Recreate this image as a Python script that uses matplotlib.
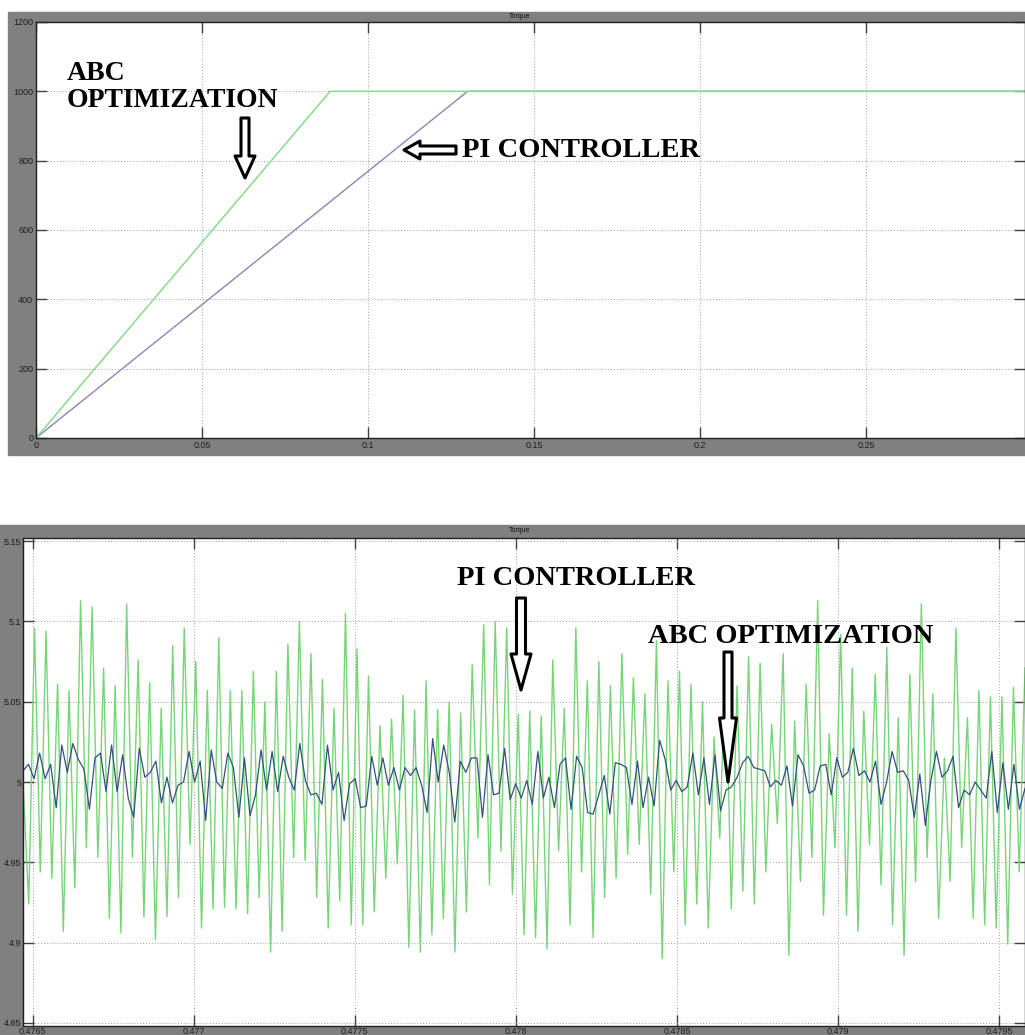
import numpy as np
import matplotlib
matplotlib.use("Agg")
import matplotlib.pyplot as plt
from matplotlib.patches import Rectangle, FancyArrowPatch

# ---- top panel: torque start-up (0 .. 0.3 s)
top_ticks_x = [0, 0.05, 0.1, 0.15, 0.2, 0.25]
top_tick_labels_x = ["0", "0.05", "0.1", "0.15", "0.2", "0.25"]
top_ticks_y = [0, 200, 400, 600, 800, 1000, 1200]
abc_start_t = [0.0, 0.0886, 0.3]
abc_start_v = [0, 1000, 1000]
pi_start_t = [0.0, 0.130, 0.3]
pi_start_v = [0, 1000, 1000]

# ---- bottom panel: steady-state ripple (0.4765 .. 0.4795 s)
bot_ticks_x = [0.4765, 0.477, 0.4775, 0.478, 0.4785, 0.479, 0.4795]
bot_tick_labels_x = ["0.4765", "0.477", "0.4775", "0.478", "0.4785", "0.479", "0.4795"]
bot_ticks_y = [4.85, 4.9, 4.95, 5.0, 5.05, 5.1, 5.15]
bot_tick_labels_y = ["4.85", "4.9", "4.95", "5", "5.05", "5.1", "5.15"]

pi_peaks = [5.096, 5.094, 5.061, 5.057, 5.113, 5.109, 5.071, 5.060, 5.111, 5.076,
            5.062, 5.046, 5.085, 5.096, 5.075, 5.057, 5.090, 5.057, 5.057, 5.069,
            5.050, 5.069, 5.086, 5.100, 5.080, 5.064, 5.046, 5.105, 5.083, 5.066,
            5.035, 5.039, 5.054, 5.045, 5.063, 5.045, 5.050, 5.043, 5.073, 5.098,
            5.100, 5.096, 5.042, 5.044, 5.041, 5.076, 5.046, 5.096, 5.063, 5.075,
            5.060, 5.080, 5.065, 5.055, 5.088, 5.063, 5.069, 5.061, 5.050, 5.028,
            5.078, 5.060, 5.078, 5.074, 5.036, 5.080, 5.038, 5.061, 5.113, 5.030,
            5.092, 5.071, 5.044, 5.067, 5.084, 5.040, 5.067, 5.111, 5.055, 5.015,
            5.096, 5.040, 5.057, 5.053, 5.053, 5.059, 5.071]
pi_troughs = [4.924, 4.944, 4.940, 4.907, 4.934, 4.959, 4.953, 4.915, 4.906, 4.953,
              4.916, 4.902, 4.916, 4.928, 4.961, 4.909, 4.921, 4.922, 4.921, 4.918,
              4.928, 4.894, 4.907, 4.953, 4.951, 4.928, 4.909, 4.926, 4.911, 4.911,
              4.919, 4.940, 4.949, 4.897, 4.894, 4.905, 4.915, 4.894, 4.919, 4.965,
              4.936, 4.957, 4.930, 4.905, 4.903, 4.896, 4.957, 4.911, 4.944, 4.903,
              4.928, 4.940, 4.955, 4.961, 4.930, 4.890, 4.944, 4.911, 4.924, 4.909,
              4.965, 4.921, 4.932, 4.924, 4.944, 4.974, 4.892, 4.938, 4.953, 4.917,
              4.959, 4.917, 4.907, 4.961, 4.936, 4.911, 4.892, 4.938, 4.953, 4.915,
              4.938, 4.959, 4.915, 4.911, 4.909, 4.899, 4.944]

abc_ripple = [5.007, 5.011, 5.002, 5.018, 5.002, 5.011, 4.984, 5.023, 5.006, 5.024,
              5.014, 5.008, 4.983, 5.015, 5.018, 4.994, 5.023, 4.994, 5.017, 4.990,
              4.978, 5.021, 5.003, 5.006, 5.013, 4.987, 5.003, 4.987, 4.998, 5.000,
              5.019, 5.000, 5.013, 4.976, 5.020, 5.000, 4.996, 5.018, 5.009, 4.978,
              5.015, 4.979, 4.992, 5.020, 4.995,
              5.019, 4.994, 5.016, 5.003, 4.995, 5.024, 5.001, 4.992, 4.993, 4.986,
              5.023, 4.995, 5.006, 4.976, 4.999, 5.002, 4.984, 4.985, 5.016, 4.998,
              5.015, 4.998, 5.009, 4.995, 5.009, 5.004, 5.009, 4.998, 4.981, 5.027,
              5.000, 5.023, 5.006, 4.975, 5.013, 5.006, 5.015, 5.015, 4.978, 5.017,
              4.992, 4.993, 5.021, 4.989, 4.999,
              4.990, 5.001, 4.986, 5.019, 4.990, 5.003, 4.984, 5.011, 5.015, 4.983,
              5.016, 5.009, 4.981, 4.980, 4.992, 5.004, 4.980, 5.012, 5.011, 5.009,
              4.986, 5.013, 4.984, 5.003, 4.985, 5.026, 5.014, 4.995, 5.001, 4.994,
              4.997, 5.018, 4.992, 5.015, 4.986, 5.017, 4.982, 4.995, 4.997, 5.003,
              5.012, 5.016, 5.009,
              5.008, 5.007, 4.997, 5.001, 4.998, 5.010, 4.985, 5.017, 5.010, 4.993,
              4.995, 5.010, 5.011, 4.992, 5.015, 5.003, 5.006, 5.021, 5.004, 5.007,
              5.000, 5.013, 4.986, 5.000, 5.019, 5.006, 5.007, 5.001, 4.978, 5.005,
              4.973, 5.001, 5.019, 5.003, 5.007, 5.016, 4.984, 4.995, 4.992, 5.000,
              4.995, 4.990, 5.019, 4.981, 5.012, 4.983, 5.011, 4.983, 4.996]

W, H = 1025, 1035
GRAY = "#808080"
TICK_COLOR = "#1e1e1e"


def fx(px):
    return px / W


def fy(py):
    return 1 - py / H


def style_axes(ax):
    ax.set_facecolor("white")
    ax.grid(True, linestyle=(0, (1, 2)), color="#a0a0a0", linewidth=0.7)
    ax.tick_params(direction="in", length=8, width=1.0, color="#404040",
                   labelsize=6.5, labelcolor=TICK_COLOR, pad=2,
                   top=True, right=True)
    for s in ax.spines.values():
        s.set_color("#202020")
        s.set_linewidth(1.0)
    for lab in ax.get_xticklabels() + ax.get_yticklabels():
        lab.set_family("Liberation Sans")


def hollow_arrow(fig, x0, y0, x1, y1, tail_w, head_w, head_l):
    # sizes given in pixels, style wants points
    k = 0.72
    style = f"simple,head_length={head_l * k},head_width={head_w * k},tail_width={tail_w * k}"
    arr = FancyArrowPatch((fx(x0), fy(y0)), (fx(x1), fy(y1)), transform=fig.transFigure,
                          arrowstyle=style, mutation_scale=1, shrinkA=0, shrinkB=0,
                          facecolor="white", edgecolor="black", linewidth=2.2, zorder=10)
    fig.add_artist(arr)


fig = plt.figure(figsize=(W / 100, H / 100), dpi=100)
fig.patch.set_facecolor("white")

# grey scope frames, kept behind the axes
fig.add_artist(Rectangle((fx(8), fy(455)), fx(W - 8), (455 - 12) / H,
                         transform=fig.transFigure, color=GRAY, zorder=-5))
fig.add_artist(Rectangle((fx(0), fy(1035)), 1.0, (1035 - 525) / H,
                         transform=fig.transFigure, color=GRAY, zorder=-5))

# ---- top axes
ax1 = fig.add_axes([fx(36), fy(438), fx(W - 36), (438 - 22) / H])
ax1.plot(pi_start_t, pi_start_v, color="#8a84b8", linewidth=1.0)
ax1.plot(abc_start_t, abc_start_v, color="#8cd88c", linewidth=1.1)
ax1.set_xlim(0, 0.2979)
ax1.set_ylim(0, 1200)
ax1.set_xticks(top_ticks_x)
ax1.set_xticklabels(top_tick_labels_x)
ax1.set_yticks(top_ticks_y)
ax1.set_yticklabels([str(v) for v in top_ticks_y])
style_axes(ax1)
fig.text(fx(520), fy(16), "Torque", fontsize=5, color="#101010",
         ha="center", va="center", family="Liberation Sans")

# ---- bottom axes
ax2 = fig.add_axes([fx(23), fy(1026), fx(W - 23), (1026 - 538) / H])
t_pi = np.linspace(0.47647, 0.47958, 2 * len(pi_peaks) + 1)
v_pi = [5.0]
for tr, pk in zip(pi_troughs, pi_peaks):
    v_pi += [tr, pk]
t_abc = np.linspace(0.47647, 0.47958, len(abc_ripple))
ax2.plot(t_pi, v_pi, color="#78d478", linewidth=1.0)
ax2.plot(t_abc, abc_ripple, color="#34507e", linewidth=0.9)
ax2.set_xlim(0.47647, 0.47958)
ax2.set_ylim(4.848, 5.152)
ax2.set_xticks(bot_ticks_x)
ax2.set_xticklabels(bot_tick_labels_x)
ax2.set_yticks(bot_ticks_y)
ax2.set_yticklabels(bot_tick_labels_y)
style_axes(ax2)
ax2.tick_params(pad=1)
fig.text(fx(520), fy(531), "Torque", fontsize=5, color="#101010",
         ha="center", va="center", family="Liberation Sans")

# ---- annotations
ann = dict(family="Liberation Serif", fontweight="bold", color="black", zorder=11)
fig.text(fx(67), fy(80), "ABC", fontsize=20, **ann)
fig.text(fx(67), fy(107), "OPTIMIZATION", fontsize=20, **ann)
fig.text(fx(462), fy(157), "PI CONTROLLER", fontsize=20.5, **ann)
hollow_arrow(fig, 245, 118, 245, 178, 8, 20, 22)
hollow_arrow(fig, 456, 150, 404, 150, 8, 18, 16)

fig.text(fx(457), fy(585), "PI CONTROLLER", fontsize=20.5, **ann)
fig.text(fx(648), fy(643), "ABC OPTIMIZATION", fontsize=20.5, **ann)
hollow_arrow(fig, 521, 598, 521, 690, 9, 20, 36)
hollow_arrow(fig, 728, 652, 728, 782, 8, 17, 64)

fig.savefig("out.png", dpi=100, facecolor=fig.get_facecolor())
